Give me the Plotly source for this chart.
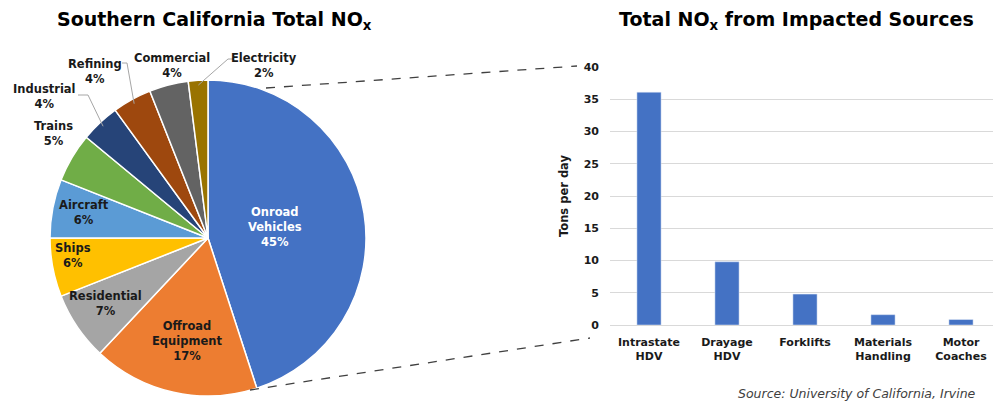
import math
import plotly.graph_objects as go

# ---------------- data ----------------
pie_labels = ["Onroad Vehicles", "Offroad Equipment", "Residential", "Ships", "Aircraft",
              "Trains", "Industrial", "Refining", "Commercial", "Electricity"]
pie_values = [45, 17, 7, 6, 6, 5, 4, 4, 4, 2]

bar_categories = ["Intrastate<br>HDV", "Drayage<br>HDV", "Forklifts", "Materials<br>Handling", "Motor<br>Coaches"]
bar_values = [36.1, 9.8, 4.8, 1.6, 0.85]
y_tick_values = [0, 5, 10, 15, 20, 25, 30, 35, 40]

left_title = "Southern California Total NO<sub>x</sub>"
right_title = "Total NO<sub>x</sub> from Impacted Sources"
y_title = "Tons per day"
source_text = "Source: University of California, Irvine"

# ---------------- styles / layout ----------------
W, H = 993, 402
pie_colors = ["#4472C4", "#ED7D31", "#A5A5A5", "#FFC000", "#5B9BD5",
              "#70AD47", "#264478", "#9E480E", "#636363", "#997300"]
label_breaks = {"Onroad Vehicles": "Onroad<br>Vehicles", "Offroad Equipment": "Offroad<br>Equipment"}
label_pos = {  # text centre in pixels
    "Onroad Vehicles": (275, 227), "Offroad Equipment": (187, 341), "Residential": (105, 303),
    "Ships": (73, 255), "Aircraft": (84, 212), "Trains": (53, 134), "Industrial": (44, 96),
    "Refining": (95, 72), "Commercial": (172, 65), "Electricity": (264, 65),
}
label_color = {"Onroad Vehicles": "white"}
leader_start = {"Industrial": [(78, 95), (88, 95)], "Refining": [(122, 63), (127, 63)],
                "Electricity": [(233, 59), (228, 59)]}

cx, cy, R = 208, 238, 158
FONT = "DejaVu Sans"


def px(x):
    return x / W


def py(y):
    return 1 - y / H


fig = go.Figure()

fig.add_trace(go.Pie(
    labels=pie_labels, values=pie_values, sort=False, direction="clockwise", rotation=0,
    marker=dict(colors=pie_colors, line=dict(color="white", width=1.5)),
    textinfo="none", hoverinfo="label+percent", showlegend=False, automargin=False,
    domain=dict(x=[px(cx - R), px(cx + R)], y=[py(cy + R), py(cy - R)]),
))

fig.add_trace(go.Bar(
    x=bar_categories, y=bar_values, marker_color="#4472C4", width=0.31,
    showlegend=False, xaxis="x", yaxis="y",
))

annotations = []
shapes = []
total = sum(pie_values)
cum = 0
for lab, val in zip(pie_labels, pie_values):
    mid = (cum + val / 2) / total * 2 * math.pi
    cum += val
    pct = round(val / total * 100)
    text = f"{label_breaks.get(lab, lab)}<br>{pct}%"
    tx, ty = label_pos[lab]
    annotations.append(dict(
        x=px(tx), y=py(ty), xref="paper", yref="paper", text=f"<b>{text}</b>", showarrow=False,
        font=dict(family=FONT, size=11.5, color=label_color.get(lab, "#1a1a1a")),
        xanchor="center", yanchor="middle", align="center",
    ))
    if lab in leader_start:
        tipx = cx + 0.97 * R * math.sin(mid)
        tipy = cy - 0.97 * R * math.cos(mid)
        pts = leader_start[lab] + [(tipx, tipy)]
        path = "M " + " L ".join(f"{px(a)},{py(b)}" for a, b in pts)
        shapes.append(dict(type="path", path=path, xref="paper", yref="paper",
                           line=dict(color="#A6A6A6", width=1)))

# titles and source
annotations.append(dict(x=px(214), y=py(20), xref="paper", yref="paper", showarrow=False,
                        text=f"<b>{left_title}</b>", font=dict(family=FONT, size=19, color="#000"),
                        xanchor="center", yanchor="middle"))
annotations.append(dict(x=px(796), y=py(20), xref="paper", yref="paper", showarrow=False,
                        text=f"<b>{right_title}</b>", font=dict(family=FONT, size=19, color="#000"),
                        xanchor="center", yanchor="middle"))
annotations.append(dict(x=px(978), y=py(393), xref="paper", yref="paper", showarrow=False,
                        text=f"<i>{source_text}</i>", font=dict(family=FONT, size=12.5, color="#404040"),
                        xanchor="right", yanchor="middle"))

# dashed connector lines
for (x0, y0), (x1, y1) in [((266, 88), (577, 66)), ((250, 390), (590, 338))]:
    shapes.append(dict(type="line", x0=px(x0), y0=py(y0), x1=px(x1), y1=py(y1),
                       xref="paper", yref="paper",
                       line=dict(color="#404040", width=1.3, dash="dash")))

bar_left, cat_w = 610, 78
fig.update_layout(
    width=W, height=H, margin=dict(l=0, r=0, t=0, b=0, pad=0, autoexpand=False),
    paper_bgcolor="white", plot_bgcolor="white",
    font=dict(family=FONT),
    xaxis=dict(domain=[px(bar_left), 1], range=[-0.5, -0.5 + (W - bar_left) / cat_w],
               showgrid=False, showline=False, zeroline=False, ticks="", automargin=False,
               ticklabelstandoff=9,
               tickfont=dict(family=FONT, size=11, color="#1a1a1a", weight="bold"),
               fixedrange=True),
    yaxis=dict(domain=[py(325), py(67)], range=[0, 40], tickvals=y_tick_values,
               showgrid=True, gridcolor="#D9D9D9", gridwidth=1, zeroline=True,
               zerolinecolor="#D9D9D9", zerolinewidth=1, showline=False, ticks="",
               ticklabelstandoff=10, automargin=False,
               tickfont=dict(family=FONT, size=11, color="#1a1a1a", weight="bold"),
               title=dict(text=y_title, font=dict(family=FONT, size=11.5, color="#1a1a1a", weight="bold"),
                          standoff=12),
               fixedrange=True),
    annotations=annotations, shapes=shapes,
)

fig.write_html("out.html")
